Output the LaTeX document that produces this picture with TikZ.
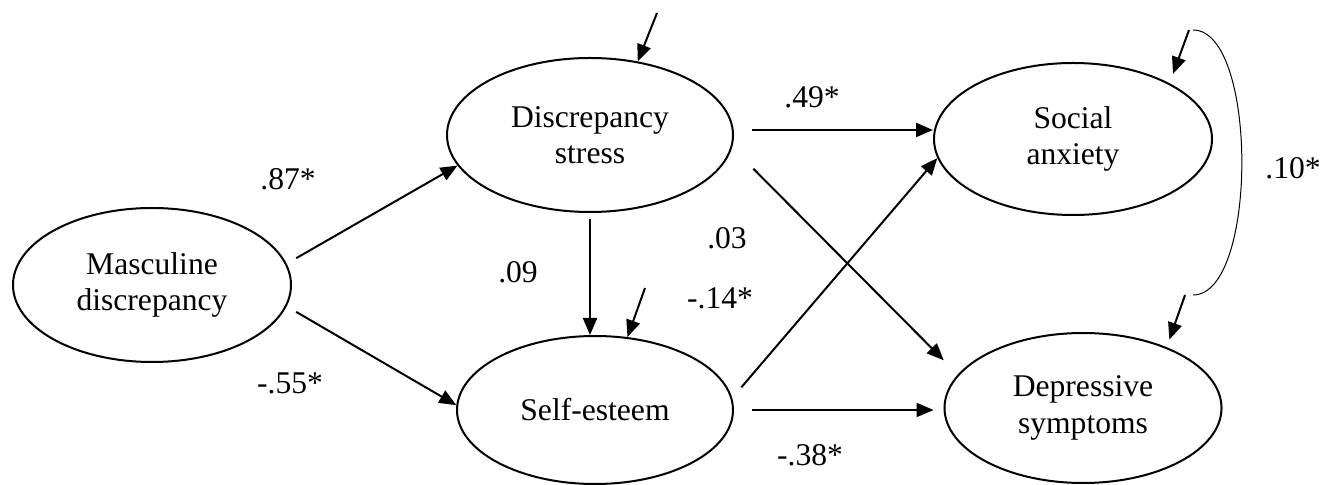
\documentclass[tikz,border=0pt]{standalone}
\usepackage{fontspec}
\setmainfont{Liberation Serif}
\usetikzlibrary{arrows.meta,shapes.geometric}

\begin{document}
\begin{tikzpicture}[
    x=0.5pt, y=-0.5pt,
    font=\fontsize{15.8}{18.3}\selectfont,
    latent/.style={draw, ellipse, line width=1pt, align=center, inner sep=0pt},
    arr/.style={-{Triangle[length=8.5pt, width=7pt]}, line width=1pt},
    cov/.style={line width=0.5pt},
    coef/.style={inner sep=0pt},
]
\useasboundingbox (0,0) rectangle (1325,485);

% latent variables
\node[latent, minimum width=139pt, minimum height=77pt] (masc) at (152,285) {Masculine\\ discrepancy};
\node[latent, minimum width=143pt, minimum height=77pt] (ds) at (590,135) {Discrepancy\\ stress};
\node[latent, minimum width=138pt, minimum height=74pt] (se) at (595,410) {Self-esteem};
\node[latent, minimum width=139pt, minimum height=76pt] (sa) at (1073,139) {Social\\ anxiety};
\node[latent, minimum width=138.5pt, minimum height=75pt] (dep) at (1083,408) {Depressive\\ symptoms};

% free ends of the residual arrows
\coordinate (ds-e) at (657,13);
\coordinate (se-e) at (645,288);
\coordinate (sa-e) at (1189,30);
\coordinate (dep-e) at (1185,295);

% paths
\draw[arr, shorten <=5.5pt] (masc.9) -- (ds.193);
\draw[arr, shorten <=5.5pt] (masc.-9.5) -- (se.178);
\draw[arr, shorten <=3pt] (ds.south) -- (ds.south |- se.north);
\draw[arr, shorten <=9pt] (ds.2) -- (ds.2 -| sa.west);
\draw[arr, shorten <=15pt, shorten >=10pt] (ds.-5) -- (dep.165);
\draw[arr, shorten <=7pt] (se.5) -- (sa.188);
\draw[arr, shorten <=9pt, shorten >=5pt] (se.east) -- (se.east -| dep.west);

% residuals
\draw[arr] (ds-e) -- (ds.57);
\draw[arr] (se-e) -- (se.66);
\draw[arr, shorten >=5pt] (sa-e) -- (sa.30);
\draw[arr, shorten >=4pt] (dep-e) -- (dep.36);
\draw[cov] ([xshift=2pt]sa-e) to[out=0, in=0, looseness=0.63] ([xshift=4pt]dep-e);

% coefficients
\node[coef] (c-masc-ds) at (288,179) {.87*};
\node[coef] (c-masc-se) at (290,383) {-.55*};
\node[coef] (c-ds-se) at (518,272) {.09};
\node[coef] (c-ds-dep) at (727,238) {.03};
\node[coef] (c-se-sa) at (720,298) {-.14*};
\node[coef] (c-ds-sa) at (812,97) {.49*};
\node[coef] (c-se-dep) at (810,455) {-.38*};
\node[coef] (c-sa-dep) at (1293,168) {.10*};
\end{tikzpicture}
\end{document}
